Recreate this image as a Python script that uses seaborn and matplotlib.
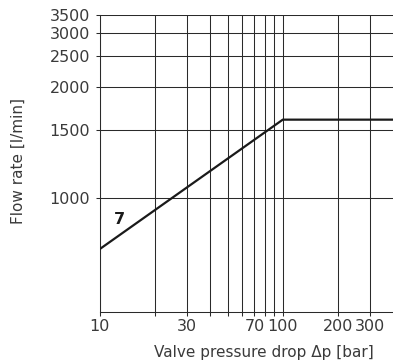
import numpy as np
import pandas as pd
import matplotlib
matplotlib.use("Agg")
import matplotlib.pyplot as plt
import seaborn as sns

# Flow characteristic of valve size 7
pressure_drop = [10, 100, 400]      # bar
flow_rate = [762, 1600, 1600]       # l/min
curve_label = "7"

x_major = [10, 30, 70, 100, 200, 300]
x_minor = [20, 40, 50, 60, 80, 90]
y_ticks = [1000, 1500, 2000, 2500, 3000, 3500]

sns.set_theme(style="white")
plt.rcParams["font.family"] = ["DejaVu Sans"]

text_color = "#3a3a3a"
grid_color = "#2a2a2a"

# power-law scale used for the flow axis
P = 0.35
def fwd(q):
    q = np.clip(np.asarray(q, dtype=float), 1e-6, None)
    return -q ** (-P)

def inv(v):
    v = np.clip(-np.asarray(v, dtype=float), 1e-12, None)
    return v ** (-1.0 / P)

fig = plt.figure(figsize=(3.93, 3.63), dpi=100)
ax = fig.add_axes([0.2537, 0.1405, 0.7463, 0.8182])

df = pd.DataFrame({"dp": pressure_drop, "q": flow_rate})
sns.lineplot(data=df, x="dp", y="q", ax=ax, color="#1a1a1a", lw=1.6,
             estimator=None, sort=False, zorder=3)

ax.set_xscale("log")
ax.set_yscale("function", functions=(fwd, inv))
ax.set_xlim(10, 400)
ax.set_ylim(564, 3500)

ax.set_xticks(x_major)
ax.set_xticklabels([str(v) for v in x_major])
ax.set_xticks(x_minor, minor=True)
ax.set_xticklabels([], minor=True)
ax.set_yticks(y_ticks)
ax.set_yticklabels([str(v) for v in y_ticks])
ax.set_yticks([], minor=True)

ax.grid(True, which="both", axis="x", color=grid_color, lw=0.75)
ax.grid(True, which="major", axis="y", color=grid_color, lw=0.75)

ax.tick_params(axis="both", which="both", direction="out", length=2.8,
               width=0.75, color=grid_color, labelsize=11.5,
               labelcolor=text_color, bottom=True, left=True)
ax.tick_params(axis="x", pad=2)
ax.tick_params(axis="y", pad=4)

for side in ["top", "right"]:
    ax.spines[side].set_visible(False)
for side in ["left", "bottom"]:
    ax.spines[side].set_color(grid_color)
    ax.spines[side].set_linewidth(0.75)

ax.set_xlabel("Valve pressure drop \u0394p [bar]", fontsize=11,
              color=text_color, va="center")
ax.xaxis.set_label_coords(0.5585, -0.138)
ax.set_ylabel("Flow rate [l/min]", fontsize=11, color=text_color,
              va="center")
ax.yaxis.set_label_coords(-0.2786, 0.51)

ax.text(12.8, 890, curve_label, fontsize=11.5, fontweight="bold",
        color="#1a1a1a", ha="center", va="center")

fig.savefig("out.png", dpi=100)
